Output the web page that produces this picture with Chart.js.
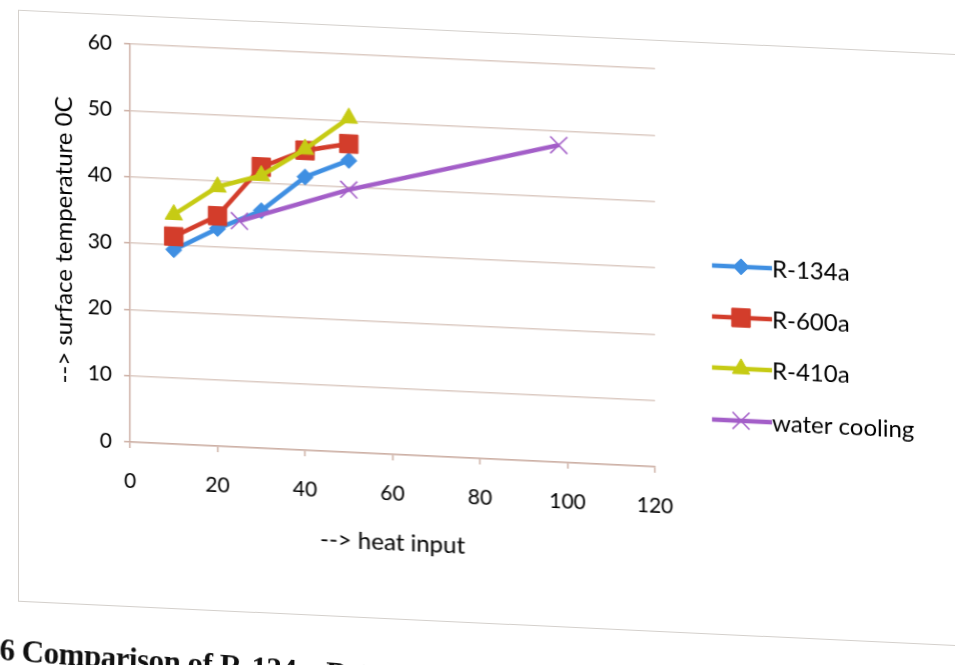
<!DOCTYPE html>
<html>
<head>
<meta charset="utf-8">
<script src="https://cdn.jsdelivr.net/npm/chart.js@4"></script>
<style>
  html, body { margin: 0; padding: 0; background: #fff; overflow: hidden; width: 955px; height: 665px; }
  #wrap { position: absolute; left: 0; top: 0; width: 955px; height: 665px; transform: skewY(2.7deg); transform-origin: 130px 0; }
  #frame { position: absolute; left: 18px; top: 15px; width: 1000px; height: 590px; border: 1.5px solid #d4d0cc; }
  #c { position: absolute; left: 0; top: 0; }
  #caption { position: absolute; left: 0; top: 638px; font-family: "Liberation Serif", serif; font-weight: bold; font-size: 31px; color: #111; white-space: nowrap; transform: rotate(1.4deg); transform-origin: 0 0; letter-spacing: -0.5px; }
</style>
</head>
<body>
<div id="wrap">
  <div id="frame"></div>
  <canvas id="c" width="955" height="665"></canvas>
  <div id="caption">6 Comparison of R-134a, R-600a</div>
</div>
<script>
// ---- data ----
const seriesNames = ["R-134a", "R-600a", "R-410a", "water cooling"];
const heatR134a = [10, 20, 30, 40, 50];
const tempR134a = [29.3, 32.8, 35.8, 41.2, 44.0];
const heatR600a = [10, 20, 30, 40, 50];
const tempR600a = [31.3, 34.7, 42.4, 45.2, 46.5];
const heatR410a = [10, 20, 30, 40, 50];
const tempR410a = [34.6, 39.1, 41.1, 45.4, 50.4];
const heatWater = [25, 50, 98];
const tempWater = [34.1, 39.6, 47.8];
const xTicks = [0, 20, 40, 60, 80, 100, 120];
const yTicks = [0, 10, 20, 30, 40, 50, 60];
const xTitle = "--> heat input";
const yTitle = "--> surface temperature 0C";

const pts = (xs, ys) => xs.map((x, i) => ({ x: x, y: ys[i] }));

const colors = ["#3f8fe2", "#d33d2b", "#c6cb14", "#a35ec8"];
const styles = ["rectRot", "rect", "triangle", "crossRot"];
const radii = [8, 13, 10, 12];

const datasets = [
  { label: seriesNames[0], data: pts(heatR134a, tempR134a), order: 4 },
  { label: seriesNames[1], data: pts(heatR600a, tempR600a), order: 3 },
  { label: seriesNames[2], data: pts(heatR410a, tempR410a), order: 2 },
  { label: seriesNames[3], data: pts(heatWater, tempWater), order: 1 }
].map((d, i) => Object.assign(d, {
  borderColor: colors[i],
  backgroundColor: colors[i],
  borderWidth: 4.5,
  pointStyle: styles[i],
  pointRadius: radii[i],
  pointBorderWidth: i === 3 ? 1.6 : 1,
  pointBorderColor: colors[i],
  pointBackgroundColor: colors[i],
  tension: 0,
  fill: false
}));

const legendPlugin = {
  id: "sideLegend",
  afterDraw(chart) {
    const ctx = chart.ctx;
    const rows = [238, 289, 340, 392];
    ctx.save();
    datasets.forEach((d, i) => {
      const y = rows[i];
      ctx.strokeStyle = d.borderColor;
      ctx.lineWidth = 4.5;
      ctx.beginPath();
      ctx.moveTo(712, y);
      ctx.lineTo(772, y);
      ctx.stroke();
      ctx.fillStyle = d.backgroundColor;
      ctx.lineWidth = d.pointBorderWidth;
      Chart.helpers.drawPoint(ctx, { pointStyle: d.pointStyle, radius: d.pointRadius, borderWidth: d.pointBorderWidth, rotation: 0 }, 741, y);
      ctx.fillStyle = "#000";
      ctx.font = "24px Lato";
      ctx.textBaseline = "middle";
      ctx.textAlign = "left";
      ctx.fillText(d.label, 772, y + 1);
    });
    ctx.restore();
  }
};

const gridColor = "#dccbc3";
const axisColor = "#cdb0a5";

new Chart(document.getElementById("c"), {
  type: "line",
  data: { datasets: datasets },
  plugins: [legendPlugin],
  options: {
    responsive: false,
    animation: false,
    layout: { padding: { left: 46, top: 44, right: 300, bottom: 116 } },
    plugins: { legend: { display: false }, tooltip: { enabled: false } },
    scales: {
      x: {
        type: "linear",
        min: xTicks[0], max: xTicks[xTicks.length - 1],
        afterBuildTicks: s => { s.ticks = xTicks.map(v => ({ value: v })); },
        afterFit: s => { s.height = 107; },
        grid: { drawOnChartArea: false, drawTicks: true, tickLength: 6, color: axisColor, lineWidth: 1.5 },
        border: { color: axisColor, width: 1.5 },
        ticks: { padding: 21, color: "#000", font: { family: "Lato", size: 21 }, maxRotation: 0 },
        title: { display: true, text: xTitle, color: "#000", font: { family: "Lato", size: 24 }, padding: { top: 4, bottom: 4 } }
      },
      y: {
        min: yTicks[0], max: yTicks[yTicks.length - 1],
        afterBuildTicks: s => { s.ticks = yTicks.map(v => ({ value: v })); },
        afterFit: s => { s.width = 84; },
        grid: { color: gridColor, lineWidth: 1.5, tickLength: 6, tickColor: axisColor },
        border: { color: axisColor, width: 1.5 },
        ticks: { padding: 12, color: "#000", font: { family: "Lato", size: 21 } },
        title: { display: true, text: yTitle, color: "#000", font: { family: "Lato", size: 24 }, padding: { top: 4, bottom: 4 } }
      }
    }
  }
});
</script>
</body>
</html>
